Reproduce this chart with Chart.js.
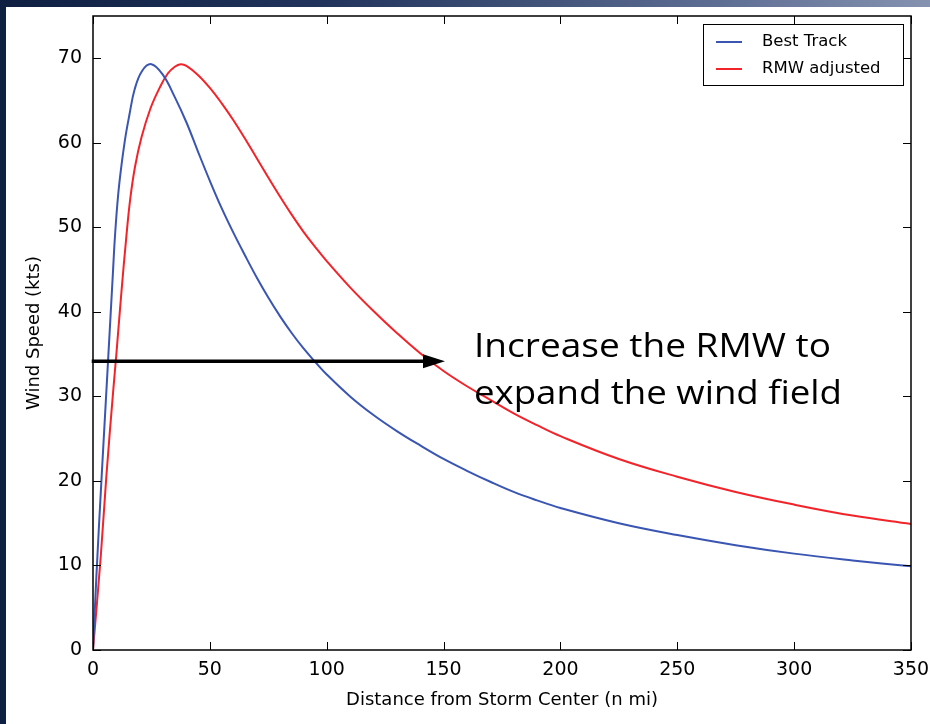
<!DOCTYPE html>
<html>
<head>
<meta charset="utf-8">
<title>Wind Speed vs Distance</title>
<script src="https://cdn.jsdelivr.net/npm/chart.js@4.4.0/dist/chart.umd.min.js"></script>
<style>
  html, body { margin: 0; padding: 0; }
  body {
    width: 930px; height: 724px; overflow: hidden; position: relative;
    background: linear-gradient(90deg, #0f1f42 0%, #22345c 35%, #5a6a90 75%, #8592b0 100%);
  }
  #panel { position: absolute; left: 6px; top: 7px; width: 924px; height: 717px; background: #fff; }
  #chart { position: absolute; left: 0; top: 0; }
</style>
</head>
<body>
<div id="panel"></div>
<canvas id="chart" width="930" height="724"></canvas>
<script>
// Best Track profile (n mi, kts)
const bestTrackDist = [0, 1.5, 3.5, 5.5, 7.5, 8.5, 9.3, 10.4, 11.5, 13.6, 15.5, 17.8, 21, 25, 30, 35, 40, 45, 50, 55, 60, 65, 70, 75, 80, 85, 90, 95, 100, 110, 120, 130, 140, 150, 160, 170, 180, 190, 200, 225, 250, 275, 300, 325, 350];
const bestTrackSpeed = [0, 9, 19.5, 29.5, 39.5, 44.5, 48.5, 52.7, 55.8, 60.2, 63.2, 66.3, 68.5, 69.3, 68.0, 65.4, 62.4, 58.9, 55.5, 52.3, 49.4, 46.7, 44.1, 41.7, 39.5, 37.5, 35.7, 34.1, 32.6, 30.0, 27.8, 25.9, 24.2, 22.6, 21.2, 19.9, 18.7, 17.7, 16.8, 15.0, 13.6, 12.4, 11.4, 10.6, 9.9];

// RMW adjusted profile
const rmwDist = [0, 3.3, 5.7, 8.6, 10, 12, 14.3, 16, 18, 20.7, 24.5, 28.5, 32, 35, 37.5, 40, 45, 50, 55, 60, 65, 70, 75, 80, 85, 90, 95, 100, 110, 120, 130, 140, 150, 160, 170, 180, 190, 200, 225, 250, 275, 300, 325, 350];
const rmwSpeed = [0, 11, 20.5, 30.5, 35, 41.8, 49, 53.5, 57.2, 60.6, 64, 66.5, 68.2, 69.0, 69.3, 69.1, 68.0, 66.5, 64.7, 62.7, 60.5, 58.2, 55.9, 53.65, 51.5, 49.5, 47.7, 46.0, 42.9, 40.1, 37.5, 35.1, 33.0, 31.2, 29.6, 28.0, 26.6, 25.3, 22.6, 20.5, 18.7, 17.2, 15.9, 14.9];

const seriesLabels = ['Best Track', 'RMW adjusted'];
const seriesColors = ['#3a55b2', '#f2242a'];

const xTicks = [0, 50, 100, 150, 200, 250, 300, 350];
const yTicks = [0, 10, 20, 30, 40, 50, 60, 70];

// annotation
const noteLines = ['Increase the RMW to', 'expand the wind field'];
const arrowSpeed = 34.15;
const arrowFrom = -0.55;
const arrowTo = 150.6;

const toPoints = (xs, ys) => xs.map((x, i) => ({ x, y: ys[i] }));

const tickFont = { family: 'DejaVu Sans', size: 19 };
const titleFont = { family: 'DejaVu Sans', size: 18 };

// matplotlib style frame with inward ticks on all sides
const frameTicks = {
  id: 'frameTicks',
  afterDraw(chart) {
    const { ctx, chartArea: a, scales } = chart;
    ctx.save();
    ctx.strokeStyle = '#000';
    ctx.lineWidth = 1;
    const len = 8;
    ctx.beginPath();
    xTicks.forEach(v => {
      const px = Math.round(scales.x.getPixelForValue(v)) + 0.5;
      ctx.moveTo(px, a.bottom); ctx.lineTo(px, a.bottom - len);
      ctx.moveTo(px, a.top); ctx.lineTo(px, a.top + len);
    });
    yTicks.forEach(v => {
      const py = Math.round(scales.y.getPixelForValue(v)) + 0.5;
      ctx.moveTo(a.left, py); ctx.lineTo(a.left + len, py);
      ctx.moveTo(a.right, py); ctx.lineTo(a.right - len, py);
    });
    ctx.stroke();
    ctx.lineWidth = 1.5;
    ctx.strokeRect(a.left, a.top, a.right - a.left, a.bottom - a.top);
    ctx.restore();
  }
};

// legend box in the upper right corner
const boxLegend = {
  id: 'boxLegend',
  afterDraw(chart) {
    const { ctx, chartArea: a } = chart;
    const x0 = a.right - 208, y0 = a.top + 8, w = 200, h = 61;
    ctx.save();
    ctx.fillStyle = '#fff';
    ctx.fillRect(x0, y0, w, h);
    ctx.strokeStyle = '#000';
    ctx.lineWidth = 1;
    ctx.strokeRect(x0 + 0.5, y0 + 0.5, w, h);
    ctx.font = '16.5px "DejaVu Sans"';
    ctx.textBaseline = 'middle';
    chart.data.datasets.forEach((ds, i) => {
      const cy = y0 + 18 + i * 27;
      ctx.strokeStyle = ds.borderColor;
      ctx.lineWidth = 2;
      ctx.beginPath();
      ctx.moveTo(x0 + 13, cy); ctx.lineTo(x0 + 39, cy);
      ctx.stroke();
      ctx.fillStyle = '#000';
      ctx.fillText(ds.label, x0 + 59, cy);
    });
    ctx.restore();
  }
};

// arrow + note text
const rmwNote = {
  id: 'rmwNote',
  afterDatasetsDraw(chart) {
    const { ctx, scales } = chart;
    const y = scales.y.getPixelForValue(arrowSpeed);
    const x1 = scales.x.getPixelForValue(arrowFrom);
    const x2 = scales.x.getPixelForValue(arrowTo);
    ctx.save();
    ctx.strokeStyle = '#000';
    ctx.fillStyle = '#000';
    ctx.lineWidth = 3.5;
    ctx.beginPath();
    ctx.moveTo(x1, y); ctx.lineTo(x2 - 14, y);
    ctx.stroke();
    ctx.beginPath();
    ctx.moveTo(x2, y);
    ctx.lineTo(x2 - 22, y - 7);
    ctx.lineTo(x2 - 22, y + 7);
    ctx.closePath();
    ctx.fill();

    ctx.font = '33px "Open Sans"';
    ctx.textBaseline = 'alphabetic';
    const widths = [357, 368];
    noteLines.forEach((line, i) => {
      const m = ctx.measureText(line).width;
      ctx.save();
      ctx.translate(474, 357 + i * 46.5);
      ctx.scale(widths[i] / m, 1);
      ctx.fillText(line, 0, 0);
      ctx.restore();
    });
    ctx.restore();
  }
};

const lineStyle = {
  showLine: true,
  borderWidth: 2,
  pointRadius: 0,
  tension: 0.4
};

const windChart = new Chart(document.getElementById('chart'), {
  type: 'scatter',
  data: {
    datasets: [
      {
        label: seriesLabels[0],
        data: toPoints(bestTrackDist, bestTrackSpeed),
        borderColor: seriesColors[0],
        backgroundColor: seriesColors[0],
        ...lineStyle
      },
      {
        label: seriesLabels[1],
        data: toPoints(rmwDist, rmwSpeed),
        borderColor: seriesColors[1],
        backgroundColor: seriesColors[1],
        ...lineStyle
      }
    ]
  },
  options: {
    responsive: false,
    animation: false,
    layout: { padding: { left: 6, top: 16, right: 19, bottom: 0 } },
    plugins: {
      legend: { display: false },
      tooltip: { enabled: false }
    },
    scales: {
      x: {
        type: 'linear',
        min: 0,
        max: 350,
        afterFit: scale => {
          scale.height = 74;
          scale.paddingLeft = 0;
          scale.paddingRight = 0;
        },
        afterBuildTicks: scale => { scale.ticks = xTicks.map(v => ({ value: v })); },
        grid: { display: false, drawTicks: false },
        border: { display: false },
        ticks: { color: '#000', font: tickFont, padding: 9, maxRotation: 0 },
        title: { display: true, text: 'Distance from Storm Center (n mi)', color: '#000', font: titleFont, padding: { top: 0, bottom: 13 } }
      },
      y: {
        type: 'linear',
        min: 0,
        max: 75,
        afterFit: scale => {
          scale.width = 87;
          scale.paddingTop = 0;
          scale.paddingBottom = 0;
        },
        afterBuildTicks: scale => { scale.ticks = yTicks.map(v => ({ value: v })); },
        grid: { display: false, drawTicks: false },
        border: { display: false },
        ticks: { color: '#000', font: tickFont, padding: 11 },
        title: { display: true, text: 'Wind Speed (kts)', color: '#000', font: titleFont, padding: { top: 18, bottom: 0 } }
      }
    }
  },
  plugins: [rmwNote, frameTicks, boxLegend]
});
</script>
</body>
</html>
